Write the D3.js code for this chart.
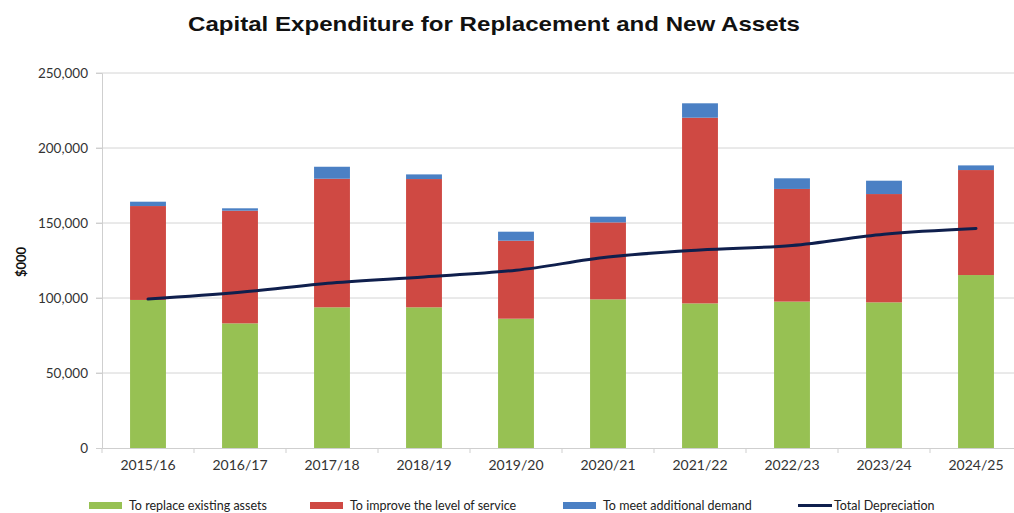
<!DOCTYPE html>
<html><head><meta charset="utf-8">
<script src="https://cdn.jsdelivr.net/npm/d3@7"></script>
<style>body{margin:0;background:#fff}svg{display:block}</style>
</head><body>
<svg id="chart" width="1014" height="513"></svg>
<script>
const categories = ["2015/16","2016/17","2017/18","2018/19","2019/20","2020/21","2021/22","2022/23","2023/24","2024/25"];
const replaceAssets = [98700, 83100, 93800, 93800, 86200, 99100, 96400, 97600, 97100, 115300];
const improveService = [62600, 75100, 85700, 85500, 52000, 51300, 123800, 75100, 72200, 70000];
const additionalDemand = [2900, 1600, 8000, 3100, 6000, 3800, 9600, 7100, 8900, 3100];
const totalDepreciation = [99300, 103800, 110000, 114000, 118500, 127300, 132000, 135000, 142500, 146300];
const yTicks = [0, 50000, 100000, 150000, 200000, 250000];
const seriesNames = ["To replace existing assets","To improve the level of service","To meet additional demand"];
const lineName = "Total Depreciation";
const colors = ["#97c153","#cf4943","#4b80c4"];
const lineColor = "#0f1f4d";

(function(){
const svg = d3.select("#chart");
const pl = 102, pr = 1022, pt = 73, pb = 448;
const x = d3.scaleBand().domain(categories).range([pl, pr]).paddingInner(0.61).paddingOuter(0.305);
const xb = d3.scaleBand().domain(categories).range([pl, pr]);
const y = d3.scaleLinear().domain([0, 250000]).range([pb, pt]);

// title
svg.append("text").attr("x", 494).attr("y", 31).attr("text-anchor","middle")
  .attr("font-family","Liberation Sans, Arial, sans-serif").attr("font-weight","bold")
  .attr("font-size", 21).attr("fill","#111")
  .attr("textLength", 612).attr("lengthAdjust","spacingAndGlyphs")
  .text("Capital Expenditure for Replacement and New Assets");

// gridlines
svg.append("g").selectAll("line").data(yTicks.filter(d=>d>0)).join("line")
  .attr("x1", pl-6).attr("x2", pr).attr("y1", d=>y(d)).attr("y2", d=>y(d))
  .attr("stroke","#d4d4d4").attr("stroke-width",1);

// y axis
const yAxis = svg.append("g").attr("transform",`translate(${pl},0)`)
  .call(d3.axisLeft(y).tickValues(yTicks).tickFormat(d3.format(",")).tickSize(6).tickPadding(8));
yAxis.select(".domain").attr("stroke","#cfcfcf");
yAxis.selectAll(".tick line").attr("stroke","#cfcfcf");
yAxis.selectAll("text").attr("font-family","Lato, Open Sans, sans-serif").attr("font-size",13.5).attr("fill","#333");

svg.append("text").attr("transform","translate(26,262) rotate(-90)").attr("text-anchor","middle")
  .attr("font-family","Lato, sans-serif").attr("font-weight","bold").attr("font-size",13).attr("fill","#111").text("$000");

// stacked bars
const rows = categories.map((c,i)=>({cat:c, a:replaceAssets[i], b:improveService[i], c:additionalDemand[i]}));
const stack = d3.stack().keys(["a","b","c"])(rows);
svg.append("g").selectAll("g").data(stack).join("g").attr("fill",(d,i)=>colors[i])
  .selectAll("rect").data(d=>d).join("rect")
  .attr("x", d=>x(d.data.cat)).attr("width", x.bandwidth())
  .attr("y", d=>y(d[1])).attr("height", d=>y(d[0])-y(d[1]));

// x axis
const xAxis = svg.append("g").attr("transform",`translate(0,${pb})`)
  .call(d3.axisBottom(xb).tickSize(0).tickPadding(12));
xAxis.select(".domain").attr("stroke","#cfcfcf");
xAxis.selectAll("text").attr("font-family","Lato, Open Sans, sans-serif").attr("font-size",14).attr("fill","#333");
svg.append("g").selectAll("line").data(categories).join("line")
  .attr("x1", d=>xb(d)).attr("x2", d=>xb(d)).attr("y1", pb).attr("y2", pb+5)
  .attr("stroke","#cfcfcf");

// depreciation line
const line = d3.line().x((d,i)=>xb(categories[i])+xb.bandwidth()/2).y(d=>y(d)).curve(d3.curveMonotoneX);
svg.append("path").datum(totalDepreciation).attr("d", line).attr("fill","none")
  .attr("stroke", lineColor).attr("stroke-width", 3).attr("stroke-linecap","round");

// legend
const lg = svg.append("g").attr("font-family","Lato, Open Sans, sans-serif").attr("font-size",12.5).attr("fill","#222");
const legendX = [89, 310, 563];
seriesNames.forEach((n,i)=>{
  lg.append("rect").attr("x", legendX[i]).attr("y", 502).attr("width", 33).attr("height", 7).attr("fill", colors[i]);
  lg.append("text").attr("x", legendX[i]+40).attr("y", 510).text(n);
});
lg.append("line").attr("x1",798).attr("x2",832).attr("y1",505.5).attr("y2",505.5).attr("stroke",lineColor).attr("stroke-width",3);
lg.append("text").attr("x",834).attr("y",510).text(lineName);
})();
</script>
</body></html>
